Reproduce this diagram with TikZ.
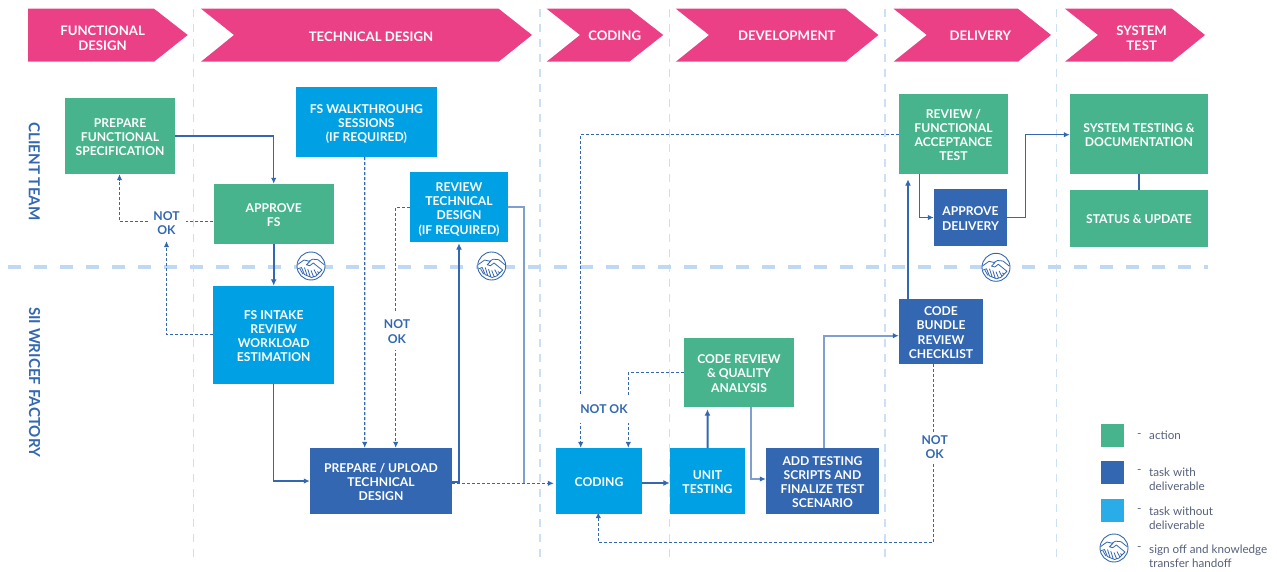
\documentclass[tikz,border=0pt]{standalone}
\usepackage{fontspec}
\setmainfont{Lato}
\usetikzlibrary{arrows.meta}
\definecolor{cgreen}{HTML}{47B48E}
\definecolor{cdark}{HTML}{3367B1}
\definecolor{clight}{HTML}{00A0E4}
\definecolor{clegend}{HTML}{2AACE8}
\definecolor{cpink}{HTML}{EC4086}
\definecolor{cline}{HTML}{3367B1}
\definecolor{cpale}{HTML}{7F9FD0}
\definecolor{cvert}{HTML}{CBE0F5}
\definecolor{chor}{HTML}{C0D8F2}
\definecolor{cleg}{HTML}{56607A}
\pgfdeclarelayer{back}
\pgfdeclarelayer{mid}
\pgfsetlayers{back,mid,main}
\newcommand{\topA}{\rule{0pt}{10.9bp}}
\newcommand{\topB}{\rule{0pt}{13.4bp}}
\tikzset{
  box/.style={inner sep=0pt,text=white,align=center,font=\fontsize{12.2}{14.3}\selectfont\bfseries},
  gbox/.style={box,fill=cgreen},
  dbox/.style={box,fill=cdark},
  lbox/.style={box,fill=clight},
  chevtxt/.style={inner sep=0pt,text=white,align=center,font=\fontsize{13.2}{15.3}\selectfont\bfseries},
  lane/.style={inner sep=0pt,text=cdark,rotate=-90,font=\fontsize{15.2}{17}\selectfont\bfseries},
  notok/.style={inner sep=0pt,fill=white,text=cdark,align=center,font=\fontsize{12.2}{14.3}\selectfont\bfseries},
  flow/.style={draw=cline,line width=1.2bp,-{Latex[length=6bp,width=5.5bp]}},
  pale/.style={draw=cpale,line width=1.7bp},
  thick flow/.style={draw=cline,line width=2bp,-{Latex[length=6.5bp,width=6bp]}},
  dflow/.style={draw=cline,line width=1.1bp,dash pattern=on 3bp off 2bp,-{Latex[length=6bp,width=5.5bp]}},
  tip/.style={-{Latex[length=6bp,width=5.5bp,color=cline]}},
  vsep/.style={draw=cvert,line width=1.2bp,dash pattern=on 8bp off 7bp},
  hsep/.style={draw=chor,line width=4bp,dash pattern=on 13bp off 13bp},
  legtxt/.style={inner sep=0pt,anchor=west,align=left,text=cleg,font=\fontsize{11.7}{14.3}\selectfont},
  lsq/.style={inner sep=0pt,minimum width=23bp,minimum height=23bp},
  hshake/.pic={
    \draw[cline,line width=.9bp,fill=white] (0,0) circle (14);
    \draw[cline,line width=.8bp,line join=round]
      (-13.3,-1.5) -- (-7,-6) -- (-2,-4.8) -- (1.5,-6.8) -- (7,-6.3) -- (13.3,-1.2)
      (-0.8,-5) -- (-4.5,-1.2) -- (-1.2,-0.3) -- (2.3,-3) -- (11,4)
      (-13.2,2.8) -- (-9.5,1.5) -- (-6.5,8.6) -- (0.5,11.5) -- (5,10) -- (11,4)
      (-6.5,1.5) -- (-3.8,9.8)
      (-3.2,3.2) -- (-0.8,10.8)
      (0,4.4) -- (2.6,10.8)
      (3,3.6) -- (6,9.2)
      (6.2,5.6) -- (8.6,7)
      (-11,3) -- (-8,8.2);
  }
}
\begin{document}
\begin{tikzpicture}[x=1bp,y=-1bp]
\useasboundingbox (0,0) rectangle (1277,572);

% phase chevrons
\fill[cpink] (28.2,8.7) -- (154,8.7) -- (187.7,35) -- (154,61.7) -- (28.2,61.7) -- cycle;
\fill[cpink] (201,8.7) -- (498.6,8.7) -- (532,35) -- (498.6,61.7) -- (201,61.7) -- (234,35) -- cycle;
\fill[cpink] (546.6,8.7) -- (629.3,8.7) -- (663.2,35) -- (629.3,61.7) -- (546.6,61.7) -- (580,35) -- cycle;
\fill[cpink] (675.8,8.7) -- (845.5,8.7) -- (878.4,35) -- (845.5,61.7) -- (675.8,61.7) -- (709,35) -- cycle;
\fill[cpink] (893.5,8.7) -- (1018,8.7) -- (1051,35) -- (1018,61.7) -- (893.5,61.7) -- (926.8,35) -- cycle;
\fill[cpink] (1065,8.7) -- (1172,8.7) -- (1205,35) -- (1172,61.7) -- (1065,61.7) -- (1098,35) -- cycle;
\node[chevtxt] (h1) at (102.6,38) {FUNCTIONAL\\DESIGN};
\node[chevtxt] (h2) at (371,36.3) {TECHNICAL DESIGN};
\node[chevtxt] (h3) at (614.7,36) {CODING};
\node[chevtxt] (h4) at (786.8,36) {DEVELOPMENT};
\node[chevtxt] (h5) at (980.4,36) {DELIVERY};
\node[chevtxt] (h6) at (1141.6,38) {SYSTEM\\TEST};

% lanes
\node[lane] (l1) at (34.4,171.5) {CLIENT TEAM};
\node[lane] (l2) at (34.6,382) {SII WRICEF FACTORY};

% separators
\begin{pgfonlayer}{back}
\foreach \vx in {193.5,540,669.3,885,1056.6}
  \draw[vsep] (\vx,9) -- (\vx,560);
\draw[hsep] (8,267) -- (1208,267);
\end{pgfonlayer}

% boxes
\node[gbox,minimum width=110bp,minimum height=76bp] (prep) at (120,136) {\topA PREPARE\\FUNCTIONAL\\SPECIFICATION};
\node[gbox,minimum width=120.2bp,minimum height=60bp] (appr) at (273.7,214) {\topA APPROVE\\FS};
\node[lbox,minimum width=141.2bp,minimum height=70bp] (walk) at (366.4,122) {\topB FS WALKTHROUHG\\SESSIONS\\(IF REQUIRED)};
\node[lbox,minimum width=98bp,minimum height=70bp] (rev) at (459,207) {\topB REVIEW\\TECHNICAL\\DESIGN\\(IF REQUIRED)};
\node[lbox,minimum width=121bp,minimum height=98bp] (intake) at (273.7,335) {\topA FS INTAKE\\REVIEW\\WORKLOAD\\ESTIMATION};
\node[dbox,minimum width=142bp,minimum height=66bp] (pu) at (381,481) {\topA PREPARE / UPLOAD\\TECHNICAL\\DESIGN};
\node[lbox,minimum width=86bp,minimum height=66bp] (cod) at (599,481) {\topA CODING};
\node[lbox,minimum width=75bp,minimum height=66bp] (unit) at (707.5,481) {\topA UNIT\\TESTING};
\node[dbox,minimum width=113bp,minimum height=66bp] (add) at (822.5,481) {\topA ADD TESTING\\SCRIPTS AND\\FINALIZE TEST\\SCENARIO};
\node[gbox,minimum width=110bp,minimum height=69bp] (crev) at (739,372.5) {\topA CODE REVIEW\\\& QUALITY\\ANALYSIS};
\node[dbox,minimum width=84bp,minimum height=65bp] (bund) at (941,331.5) {\topA CODE\\BUNDLE\\REVIEW\\CHECKLIST};
\node[gbox,minimum width=109bp,minimum height=80bp] (fat) at (953.5,134) {\topA REVIEW /\\FUNCTIONAL\\ACCEPTANCE\\TEST};
\node[dbox,minimum width=73bp,minimum height=57bp] (adel) at (970.5,217.5) {\topA APPROVE\\DELIVERY};
\node[gbox,minimum width=138bp,minimum height=80bp] (sys) at (1139,134) {\topA SYSTEM TESTING \&\\DOCUMENTATION};
\node[gbox,minimum width=138bp,minimum height=57bp] (stat) at (1139,218.5) {\topA STATUS \& UPDATE};

% NOT OK labels
\node[notok,minimum width=38bp,minimum height=36bp] (no1) at (166.5,223) {NOT\\OK};
\node[notok,minimum width=24bp,minimum height=37bp] (no2) at (397,331.5) {NOT\\OK};
\node[notok,minimum width=56bp,minimum height=28bp] (no3) at (604,409) {NOT OK};
\node[notok,minimum width=24bp,minimum height=30bp] (no4) at (934.7,447) {NOT\\OK};

% connectors
\begin{pgfonlayer}{mid}
\draw[flow] (prep.east) -| (appr.north);
\draw[dflow] ([yshift=-7.5bp]appr.west) -| ([xshift=-0.5bp]prep.south);
\draw[dflow] ([yshift=0.5bp]intake.west) -| (no1.south);
\draw[thick flow] (appr.south) -- (intake.north);
\draw[flow] (intake.south) |- (pu.west);
\draw[dflow] ([xshift=-1.7bp]walk.south) -- ([xshift=-16.3bp]pu.north);
\draw[dflow] ([yshift=-0.5bp]rev.west) -| ([xshift=14.7bp]pu.north);
\draw[thick flow,shorten >=1bp] ([yshift=-1bp]pu.east) -| (rev.south);
\draw[draw=cpale,line width=1.4bp] (rev.east) -| ([yshift=-2.3bp,xshift=-32bp]cod.west);
\draw[dflow,shorten >=2bp] ([yshift=-2.3bp]pu.east) -- ([yshift=-2.3bp]cod.west);
\draw[dflow] ([yshift=-0.5bp]fat.west) -| ([xshift=-18.3bp]cod.north);
\draw[dflow] (crev.west) -| ([xshift=29.3bp]cod.north);
\draw[thick flow] ([yshift=-2bp]cod.east) -- ([yshift=-2bp]unit.west);
\draw[thick flow,shorten >=2bp] (unit.north) -- ([xshift=-31.5bp]crev.south);
\draw[pale,tip] ([xshift=11.7bp]crev.south) |- ([yshift=2bp]add.west);
\draw[pale,tip] ([xshift=1.2bp]add.north) |- ([yshift=-4.2bp]bund.west);
\draw[thick flow,line width=1.8bp,shorten >=5bp] ([xshift=-33bp]bund.north) -- ([xshift=-45.5bp]fat.south);
\draw[flow] ([xshift=-33.7bp]fat.south) |- (adel.west);
\draw[flow] (adel.east) -- ++(18,0) |- ([yshift=-0.7bp]sys.west);
\draw[cline,line width=2bp] (sys.south) -- (stat.north);
\draw[dflow] ([xshift=-7.3bp]bund.south) |- (598.3,542.3) -- ([yshift=2bp,xshift=-0.7bp]cod.south);
\end{pgfonlayer}

% hand-off icons
\pic at (311,266) {hshake};
\pic at (491.7,266) {hshake};
\pic at (996,267.3) {hshake};

% legend
\node[lsq,fill=cgreen] (k1) at (1112.5,435.5) {};
\node[lsq,fill=cdark] (k2) at (1112.5,472.5) {};
\node[lsq,fill=clegend] (k3) at (1112.5,510.5) {};
\pic at (1114,548) {hshake};
\node[legtxt] (t1) at (1137,435.7) {-};
\node[legtxt] (t2) at (1137,472) {-};
\node[legtxt] (t3) at (1137,511) {-};
\node[legtxt] (t4) at (1137,549) {-};
\node[legtxt] (u1) at (1149,435.7) {action};
\node[legtxt] (u2) at (1149,479) {task with\\deliverable};
\node[legtxt] (u3) at (1149,518) {task without\\deliverable};
\node[legtxt] (u4) at (1149,556) {sign off and knowledge\\transfer handoff};
\end{tikzpicture}
\end{document}
